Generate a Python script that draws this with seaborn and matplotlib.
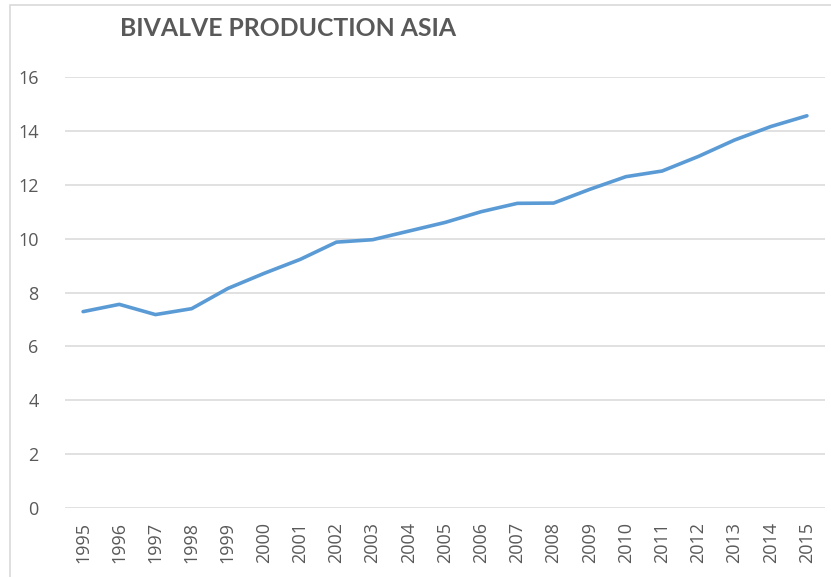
import numpy as np
import pandas as pd
import matplotlib
matplotlib.use("Agg")
import matplotlib.pyplot as plt
import seaborn as sns
from matplotlib.patches import Rectangle

# Data =================================================================================================================

years = list(range(1995, 2016))
production = [7.29, 7.56, 7.18, 7.40, 8.15, 8.71, 9.23, 9.87, 9.96, 10.28, 10.60,
              11.00, 11.31, 11.32, 11.83, 12.30, 12.51, 13.05, 13.66, 14.16, 14.56]
y_ticks = [0, 2, 4, 6, 8, 10, 12, 14, 16]

df = pd.DataFrame({"year": years, "production": production})

# Plot =================================================================================================================

sns.set_theme(style="white")
plt.rcParams["font.family"] = ["Open Sans", "DejaVu Sans"]

W, H = 831, 577
fig = plt.figure(figsize=(W / 100, H / 100), dpi=100)
ax = fig.add_axes([65 / W, 1 - 508 / H, (825 - 65) / W, (508 - 77) / H])

#### chart border (Excel style, cropped on right/bottom)
fig.patches.append(Rectangle((10 / W, -0.1), 2, 1 - 5 / H + 0.1, transform=fig.transFigure,
                             fill=False, edgecolor="#d9d9d9", linewidth=1.2))

#### gridlines
for t in y_ticks:
    ax.axhline(t, color="#d9d9d9", linewidth=1.1, zorder=0)

#### line
sns.lineplot(data=df, x="year", y="production", ax=ax, color="#5b9bd5", linewidth=2.6)

#### settings
ax.set_xlim(years[0] - 0.5, years[-1] + 0.5)
ax.set_ylim(0, 16)
ax.set_xticks(years)
ax.set_xticklabels([str(y) for y in years], rotation=90, fontsize=13, color="#595959")
ax.set_yticks(y_ticks)
ax.set_yticklabels([str(t) for t in y_ticks], fontsize=13, color="#595959")
ax.tick_params(axis="both", length=0)
ax.tick_params(axis="x", pad=10)
ax.tick_params(axis="y", pad=19)
ax.set_xlabel("")
ax.set_ylabel("")
for s in ax.spines.values():
    s.set_visible(False)

fig.text(120 / W, 1 - 28 / H, "BIVALVE PRODUCTION ASIA", fontsize=17.8, fontweight="bold",
         color="#595959", ha="left", va="center", family=["Lato", "DejaVu Sans"])

fig.savefig("out.png", dpi=100)
